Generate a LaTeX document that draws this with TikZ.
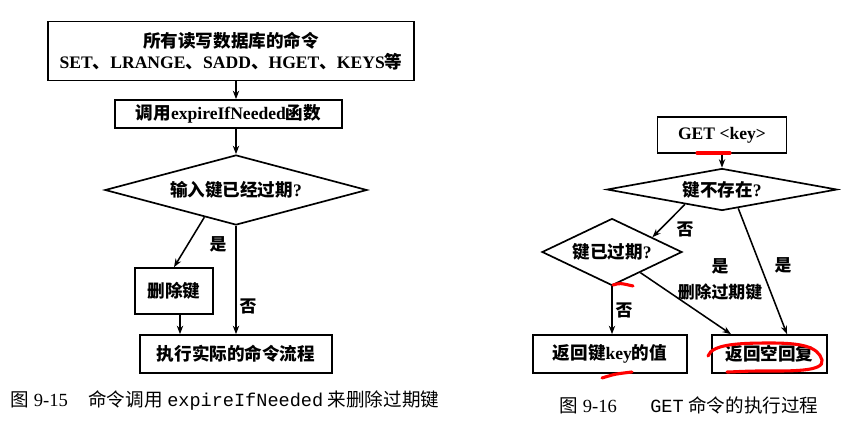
\documentclass[tikz,border=0pt]{standalone}
\usepackage{fontspec}
\setmainfont{Liberation Serif}
\setmonofont{Liberation Mono}
\newfontfamily\cjk{Noto Sans CJK SC}
\usetikzlibrary{shapes.geometric,arrows.meta,calc}
\newcommand{\zh}[1]{{\cjk #1}}

\begin{document}
\begin{tikzpicture}[x=0.025cm,y=-0.025cm,
  box/.style={draw,line width=1.2pt,inner sep=0pt,align=center,
    font=\fontsize{12.5}{15}\selectfont\bfseries},
  dec/.style={draw,diamond,line width=1.2pt,inner sep=0pt,
    font=\fontsize{12.5}{15}\selectfont\bfseries},
  lbl/.style={font=\fontsize{12}{14}\selectfont\bfseries\cjk},
  arr/.style={line width=1.1pt,-{Stealth[length=6pt,width=4.5pt]}},
  captext/.style={font=\fontsize{13.2}{16}\selectfont},
  redpen/.style={red,line width=2.2pt,line cap=round}]
  \useasboundingbox (0,0) rectangle (841,423);

  % 图 9-15
  \node[box,minimum width=9.15cm,minimum height=1.475cm] (top) at (231,51)
    {\zh{所有读写数据库的命令}\\SET\zh{、}LRANGE\zh{、}SADD\zh{、}HGET\zh{、}KEYS\zh{等}};
  \node[box,minimum width=5.675cm,minimum height=0.7cm] (call) at (228.5,114)
    {\zh{调用}expireIfNeeded\zh{函数}};
  \node[dec,aspect=3.7,minimum width=6.55cm,minimum height=1.75cm] (dia) at (236,190)
    {\zh{输入键已经过期}?};
  \node[box,minimum width=1.95cm,minimum height=1.15cm] (del) at (174,291)
    {\zh{删除键}};
  \node[box,minimum width=4.8cm,minimum height=0.95cm] (run) at (236,354)
    {\zh{执行实际的命令流程}};
  \coordinate (delout) at ($(del.south)+(6,0)$);
  \draw[arr] (top.south -| dia.north) -- (call.north -| dia.north);
  \draw[arr] (call.south -| dia.north) -- (dia.north);
  \draw[arr] ($(dia.south)!0.24!(dia.west)$) -- (del.north);
  \draw[arr] (dia.south) -- (run.north);
  \draw[arr] (delout) -- (delout |- run.north);
  \node[lbl] (yes1) at (218,244) {是};
  \node[lbl] (no1) at (248,306) {否};
  \node[captext] (cap1) at (225,401)
    {\zh{图} 9-15\hspace{1.1em}\zh{命令调用} \texttt{expireIfNeeded} \zh{来删除过期键}};

  % 图 9-16
  \node[box,minimum width=3.225cm,minimum height=0.9cm] (get) at (722,135)
    {GET <key>};
  \node[dec,aspect=5.5,minimum width=5.75cm,minimum height=1.05cm] (ne) at (722,189.5)
    {\zh{键不存在}?};
  \node[dec,aspect=2.1,minimum width=3.5cm,minimum height=1.675cm] (chk) at (612,252)
    {\zh{键已过期}?};
  \node[box,minimum width=3.85cm,minimum height=0.95cm] (val) at (610,354)
    {\zh{返回键}key\zh{的值}};
  \node[box,minimum width=2.875cm,minimum height=0.95cm] (nil) at (769.5,354)
    {\zh{返回空回复}};
  \draw[arr] (get.south) -- (ne.north);
  \draw[arr] ($(ne.south)!0.32!(ne.west)$) -- ($(chk.north)!0.57!(chk.east)$);
  \draw[arr] ($(ne.south)!0.14!(ne.east)$) -- ($(nil.north west)!0.65!(nil.north east)$);
  \draw[arr] ($(chk.south)!0.4!(chk.east)$) -- ($(nil.north west)!0.17!(nil.north east)$);
  \draw[arr] (chk.south) -- (chk.south |- val.north);
  \node[lbl] (no2) at (685,229) {否};
  \node[lbl] (yes2) at (720,266) {是};
  \node[lbl] (delexp) at (720,292) {删除过期键};
  \node[lbl] (yes3) at (783,265) {是};
  \node[lbl] (no3) at (624,310) {否};
  \node[captext] (cap2) at (689,405)
    {\zh{图} 9-16\hspace{1.8em}\texttt{GET} \zh{命令的执行过程}};

  % 红色批注
  \draw[redpen] (697,153) -- (730,153);
  \draw[redpen] (613,285) .. controls (620,283) .. (633,286);
  \draw[redpen] (602,378) .. controls (615,374) .. (632,372);
  \draw[redpen] (708,356) .. controls (712,344) and (740,343) .. (770,343)
    .. controls (800,343) and (818,346) .. (822,360)
    .. controls (825,372) and (790,371) .. (760,371)
    .. controls (745,371) and (732,372) .. (727,372);
\end{tikzpicture}
\end{document}
